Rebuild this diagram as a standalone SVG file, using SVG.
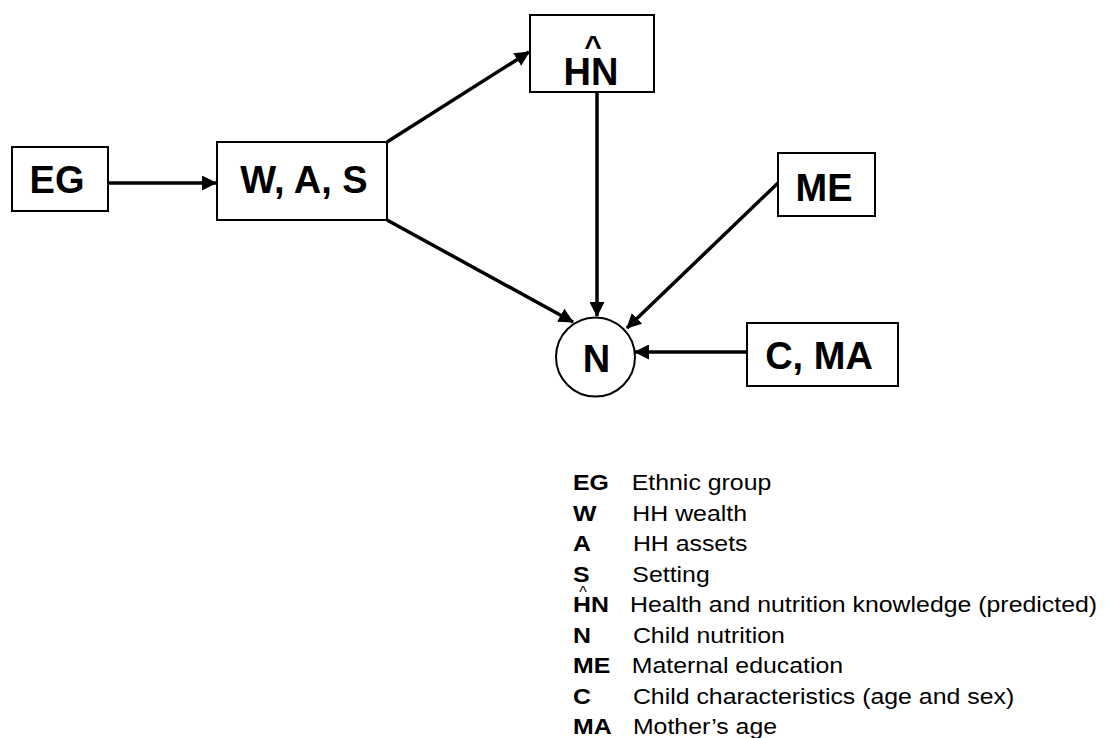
<svg xmlns="http://www.w3.org/2000/svg" width="1109" height="738" viewBox="0 0 1109 738">
<style>
.box{fill:#fff;stroke:#000;stroke-width:2}
.lbl{font-family:"Liberation Sans",Arial,sans-serif;font-weight:bold;font-size:38px;fill:#000;text-anchor:middle}
.edge{stroke:#000;stroke-width:3.5;fill:none;marker-end:url(#ah)}
.lk{font-family:"Liberation Sans",Arial,sans-serif;font-weight:bold;font-size:22px;fill:#000}
.ld{font-family:"Liberation Sans",Arial,sans-serif;font-size:22px;fill:#000}
</style>
<defs>
<marker id="ah" markerUnits="userSpaceOnUse" markerWidth="15" markerHeight="15" refX="14" refY="7.5" orient="auto">
<path d="M0,0 L15,7.5 L0,15 z" fill="#000"/>
</marker>
</defs>
<rect width="1109" height="738" fill="#fff"/>
<g id="connectors">
<line class="edge" x1="108" y1="183" x2="216" y2="183"/>
<line class="edge" x1="387" y1="142" x2="529" y2="52"/>
<line class="edge" x1="597" y1="92" x2="597" y2="316"/>
<line class="edge" x1="387" y1="220" x2="573" y2="322"/>
<line class="edge" x1="778" y1="183" x2="627" y2="328"/>
<line class="edge" x1="747" y1="352" x2="635" y2="352"/>
</g>
<g id="EG">
<rect class="box" x="12" y="147" width="96" height="64"/>
<text class="lbl" x="57" y="193">EG</text>
</g>
<g id="WAS">
<rect class="box" x="217" y="142" width="170" height="78"/>
<text class="lbl" x="304" y="193">W, A, S</text>
</g>
<g id="HN">
<rect class="box" x="530" y="15" width="124" height="77"/>
<text class="lbl" x="593" y="56" style="font-size:30px">^</text>
<text class="lbl" x="591" y="85">HN</text>
</g>
<g id="ME">
<rect class="box" x="778" y="153" width="97" height="63"/>
<text class="lbl" x="824" y="201">ME</text>
</g>
<g id="N">
<circle cx="595.5" cy="357" r="39.5" fill="#fff" stroke="#000" stroke-width="2"/>
<text class="lbl" x="596.5" y="372">N</text>
</g>
<g id="CMA">
<rect class="box" x="747" y="323" width="151" height="63"/>
<text class="lbl" x="819" y="369">C, MA</text>
</g>
<g id="legend">
<text class="ld" x="583" y="598" text-anchor="middle" style="font-size:16px">^</text>
<g transform="translate(573 0) scale(1.13 1)">
<text class="lk" x="0" y="490.5">EG</text><text class="ld" x="52" y="490.5">Ethnic group</text>
<text class="lk" x="0" y="521">W</text><text class="ld" x="52.5" y="521">HH wealth</text>
<text class="lk" x="0" y="551.5">A</text><text class="ld" x="53" y="551.5">HH assets</text>
<text class="lk" x="0" y="582">S</text><text class="ld" x="52.5" y="582">Setting</text>
<text class="lk" x="0" y="612.5">HN</text><text class="ld" x="50.5" y="612.5">Health and nutrition knowledge (predicted)</text>
<text class="lk" x="0" y="643">N</text><text class="ld" x="53" y="643">Child nutrition</text>
<text class="lk" x="0" y="673.5">ME</text><text class="ld" x="52" y="673.5">Maternal education</text>
<text class="lk" x="0" y="704">C</text><text class="ld" x="53" y="704">Child characteristics (age and sex)</text>
<text class="lk" x="0" y="734.5">MA</text><text class="ld" x="53" y="734.5">Mother’s age</text>
</g>
</g>
</svg>
